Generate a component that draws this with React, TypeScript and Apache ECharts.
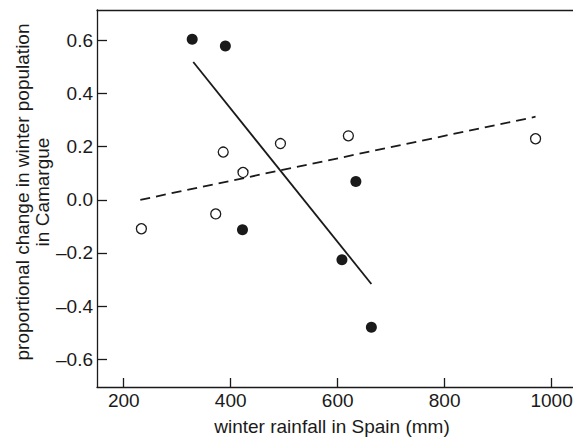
import React, { useEffect, useRef } from "react";
import * as echarts from "echarts";

const xTicks = [200, 400, 600, 800, 1000];
const yTicks = [-0.6, -0.4, -0.2, 0.0, 0.2, 0.4, 0.6];

const filledPoints: [number, number][] = [
  [328, 0.605],
  [390, 0.579],
  [422, -0.113],
  [634, 0.069],
  [608, -0.226],
  [663, -0.48],
];

const openPoints: [number, number][] = [
  [233, -0.109],
  [372, -0.053],
  [386, 0.18],
  [423, 0.103],
  [493, 0.212],
  [620, 0.241],
  [970, 0.23],
];

const solidLine: [number, number][] = [
  [330, 0.519],
  [663, -0.317],
];

const dashedLine: [number, number][] = [
  [231, 0.0],
  [970, 0.313],
];

const xTitle = "winter rainfall in Spain (mm)";
const yTitle = "proportional change in winter population\nin Camargue";

const INK = "#1a1a1a";
const FONT = "Liberation Sans, Arial, Helvetica, sans-serif";

export default function App() {
  const ref = useRef<HTMLDivElement>(null);
  useEffect(() => {
    if (!ref.current) return;
    const chart = echarts.init(ref.current, undefined, { renderer: "svg" });
    chart.setOption({
      animation: false,
      backgroundColor: "#ffffff",
      grid: {
        left: 97,
        right: 0,
        top: 10,
        bottom: 51,
        containLabel: false,
        outerBoundsMode: "none",
      },
      xAxis: [
        {
          type: "value",
          min: 150,
          max: 1040,
          axisLine: { show: true, onZero: false, lineStyle: { color: INK, width: 1.3 } },
          axisTick: {
            show: true,
            inside: true,
            length: 9,
            customValues: xTicks,
            lineStyle: { color: INK, width: 1.3 },
          },
          axisLabel: {
            customValues: xTicks,
            fontFamily: FONT,
            fontSize: 19,
            color: INK,
            margin: 4,
            formatter: (v: number) => String(v),
          },
          splitLine: { show: false },
        },
        {
          type: "value",
          position: "top",
          min: 150,
          max: 1040,
          axisLine: { show: true, onZero: false, lineStyle: { color: INK, width: 1.3 } },
          axisTick: { show: false },
          axisLabel: { show: false },
          splitLine: { show: false },
        },
      ],
      yAxis: {
        type: "value",
        min: -0.705,
        max: 0.715,
        axisLine: { show: true, onZero: false, lineStyle: { color: INK, width: 1.3 } },
        axisTick: {
          show: true,
          inside: true,
          length: 10,
          customValues: yTicks,
          lineStyle: { color: INK, width: 1.3 },
        },
        axisLabel: {
          customValues: yTicks,
          fontFamily: FONT,
          fontSize: 19,
          color: INK,
          margin: 4,
          formatter: (v: number) => v.toFixed(1).replace("-", "\u2013"),
        },
        splitLine: { show: false },
      },
      graphic: [
        {
          type: "text",
          x: 32,
          y: 192,
          rotation: Math.PI / 2,
          style: {
            text: yTitle,
            fontFamily: FONT,
            fontSize: 19,
            lineHeight: 20,
            fill: INK,
            textAlign: "center",
            textVerticalAlign: "middle",
          },
        },
        {
          type: "text",
          x: 332,
          y: 426,
          style: {
            text: xTitle,
            fontFamily: FONT,
            fontSize: 19,
            fill: INK,
            textAlign: "center",
            textVerticalAlign: "middle",
          },
        },
      ],
      series: [
        {
          type: "line",
          data: solidLine,
          symbol: "none",
          lineStyle: { color: INK, width: 1.8 },
          z: 2,
        },
        {
          type: "line",
          data: dashedLine,
          symbol: "none",
          lineStyle: { color: INK, width: 1.8, type: [10, 6] },
          z: 2,
        },
        {
          type: "scatter",
          data: filledPoints,
          symbol: "circle",
          symbolSize: 11,
          itemStyle: { color: INK, opacity: 1 },
          z: 3,
        },
        {
          type: "scatter",
          data: openPoints,
          symbol: "circle",
          symbolSize: 10,
          itemStyle: { color: "#ffffff", borderColor: INK, borderWidth: 1.3, opacity: 1 },
          z: 3,
        },
      ],
    });
    return () => chart.dispose();
  }, []);
  return (
    <div
      ref={ref}
      style={{ position: "absolute", left: 0, top: 0, width: 573, height: 438 }}
    />
  );
}
